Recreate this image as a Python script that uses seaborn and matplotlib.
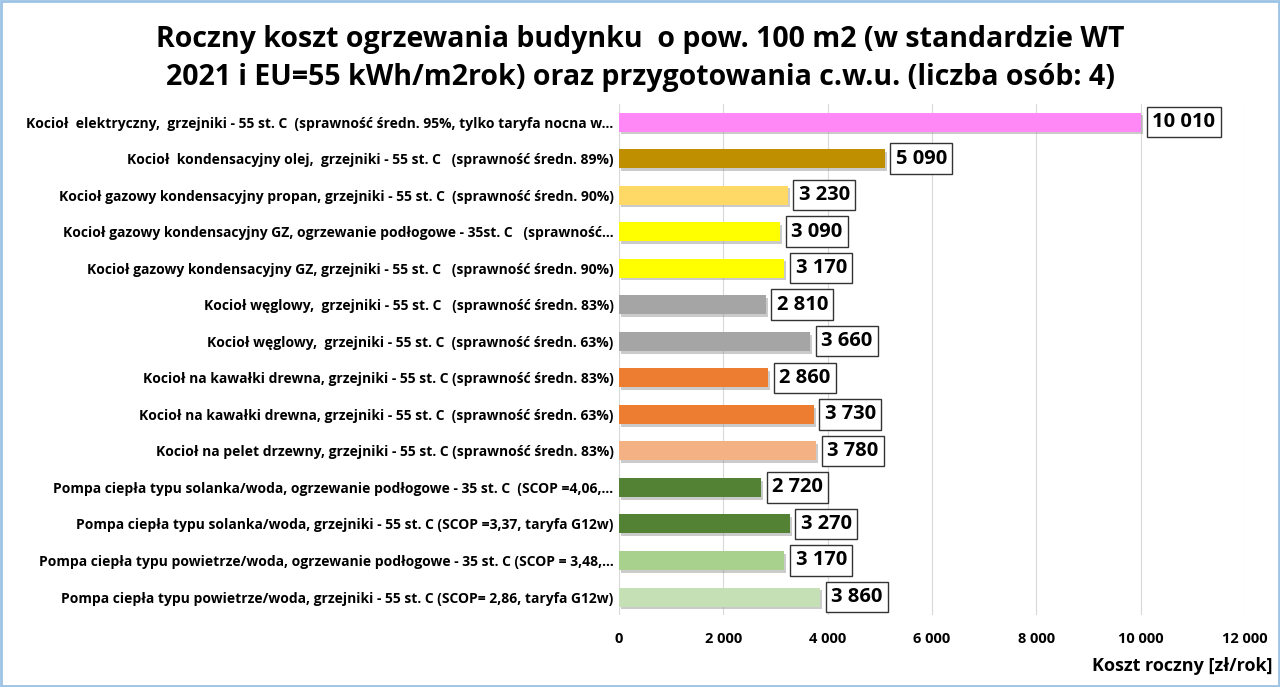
import matplotlib
matplotlib.use("Agg")
import matplotlib.pyplot as plt
import matplotlib.patheffects as pe
import seaborn as sns
import pandas as pd
from matplotlib.ticker import FuncFormatter
from matplotlib.patches import Rectangle

categories = [
    "Kocioł  elektryczny,  grzejniki - 55 st. C  (sprawność średn. 95%, tylko taryfa nocna w...",
    "Kocioł  kondensacyjny olej,  grzejniki - 55 st. C   (sprawność średn. 89%)",
    "Kocioł gazowy kondensacyjny propan, grzejniki - 55 st. C  (sprawność średn. 90%)",
    "Kocioł gazowy kondensacyjny GZ, ogrzewanie podłogowe - 35st. C   (sprawność...",
    "Kocioł gazowy kondensacyjny GZ, grzejniki - 55 st. C   (sprawność średn. 90%)",
    "Kocioł węglowy,  grzejniki - 55 st. C   (sprawność średn. 83%)",
    "Kocioł węglowy,  grzejniki - 55 st. C  (sprawność średn. 63%)",
    "Kocioł na kawałki drewna, grzejniki - 55 st. C (sprawność średn. 83%)",
    "Kocioł na kawałki drewna, grzejniki - 55 st. C  (sprawność średn. 63%)",
    "Kocioł na pelet drzewny, grzejniki - 55 st. C (sprawność średn. 83%)",
    "Pompa ciepła typu solanka/woda, ogrzewanie podłogowe - 35 st. C  (SCOP =4,06,...",
    "Pompa ciepła typu solanka/woda, grzejniki - 55 st. C (SCOP =3,37, taryfa G12w)",
    "Pompa ciepła typu powietrze/woda, ogrzewanie podłogowe - 35 st. C (SCOP = 3,48,...",
    "Pompa ciepła typu powietrze/woda, grzejniki - 55 st. C (SCOP= 2,86, taryfa G12w)",
]
values = [10010, 5090, 3230, 3090, 3170, 2810, 3660, 2860, 3730, 3780, 2720, 3270, 3170, 3860]
colors = ["#FF88F6", "#BF8F00", "#FFD966", "#FFFF00", "#FFFF00", "#A5A5A5", "#A5A5A5",
          "#ED7D31", "#ED7D31", "#F4B183", "#548235", "#548235", "#A9D18E", "#C5E0B4"]
xticks = [0, 2000, 4000, 6000, 8000, 10000, 12000]

title = ("Roczny koszt ogrzewania budynku  o pow. 100 m2 (w standardzie WT\n"
         "2021 i EU=55 kWh/m2rok) oraz przygotowania c.w.u. (liczba osób: 4)")
xlabel = "Koszt roczny [zł/rok]"

sns.set_theme(style="white")
plt.rcParams["font.family"] = ["Open Sans", "DejaVu Sans"]
plt.rcParams["text.color"] = "black"
plt.rcParams["xtick.color"] = "black"
plt.rcParams["ytick.color"] = "black"

df = pd.DataFrame({"cat": categories, "val": values})

fig = plt.figure(figsize=(12.8, 6.87), dpi=100)
ax = fig.add_axes([0.4836, 0.1044, 0.4891, 0.7446])

sns.barplot(data=df, y="cat", x="val", hue="cat", palette=colors, legend=False,
            orient="h", width=0.52, saturation=1, linewidth=0, ax=ax, zorder=2)
for p in ax.patches:
    p.set_path_effects([pe.SimplePatchShadow(offset=(1.5, -2), shadow_rgbFace="#8c8c8c", alpha=0.45),
                        pe.Normal()])

ax.set_xlim(0, 12000)
ax.set_ylim(len(values) - 0.5, -0.5)
ax.set_xticks(xticks)
ax.xaxis.set_major_formatter(FuncFormatter(lambda v, p: f"{int(v):,}".replace(",", " ")))
ax.grid(axis="x", color="#d9d9d9", linewidth=0.8, zorder=0)
ax.set_axisbelow(True)
for s in ax.spines.values():
    s.set_visible(False)
ax.tick_params(axis="x", length=0, pad=12, labelsize=10.5)
ax.tick_params(axis="y", length=0, pad=4, labelsize=10)
for lab in ax.get_xticklabels() + ax.get_yticklabels():
    lab.set_fontweight("bold")
ax.set_ylabel("")
ax.set_xlabel("")

for i, v in enumerate(values):
    ax.annotate(f"{v:,}".replace(",", " "), xy=(v, i), xytext=(8, 0), textcoords="offset points",
                va="center", ha="left", fontsize=14.5, fontweight="bold", color="black",
                bbox=dict(boxstyle="square,pad=0.26", fc="white", ec="#333333", lw=1.0), zorder=5)

fig.text(0.5, 0.915, title, ha="center", va="center", fontsize=20.5, fontweight="bold",
         linespacing=1.4)
fig.text(0.994, 0.03, xlabel, ha="right", va="center", fontsize=13, fontweight="bold")

fig.patches.append(Rectangle((0.001, 0.001), 0.998, 0.997, transform=fig.transFigure,
                             fill=False, ec="#9DC3E6", lw=2))

fig.savefig("out.png", dpi=100)
